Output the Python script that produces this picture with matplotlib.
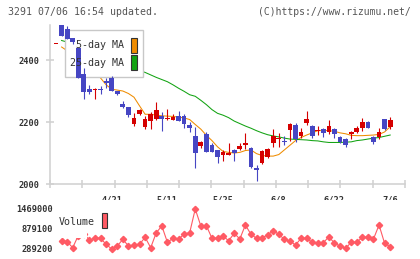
import matplotlib
matplotlib.use("Agg")
import matplotlib.pyplot as plt
from matplotlib.patches import Rectangle
import numpy as np

# candles, one per trading day (index 0..60)
opens = [2451, 2515, 2500, 2472, 2440, 2355, 2307, 2302, 2305, 2333,
         2343, 2301, 2257, 2247, 2194, 2226, 2185, 2204, 2209, 2220,
         2210, 2207, 2219, 2219, 2190, 2155, 2124, 2161, 2126, 2109,
         2094, 2095, 2110, 2113, 2126, 2115, 2053, 2069, 2088, 2131,
         2144, 2138, 2174, 2190, 2155, 2198, 2187, 2172, 2176, 2169,
         2176, 2153, 2144, 2161, 2169, 2182, 2200, 2153, 2153, 2210,
         2185]
highs = [2453, 2515, 2509, 2472, 2440, 2373, 2318, 2309, 2316, 2341,
         2348, 2301, 2269, 2249, 2228, 2242, 2219, 2233, 2265, 2233,
         2242, 2225, 2236, 2225, 2201, 2185, 2140, 2167, 2131, 2110,
         2109, 2133, 2112, 2131, 2166, 2120, 2061, 2110, 2117, 2176,
         2165, 2155, 2196, 2198, 2180, 2236, 2190, 2187, 2182, 2206,
         2182, 2155, 2149, 2171, 2187, 2212, 2203, 2155, 2182, 2210,
         2215]
lows = [2451, 2478, 2468, 2453, 2343, 2273, 2290, 2275, 2290, 2311,
        2301, 2287, 2244, 2217, 2187, 2224, 2178, 2178, 2207, 2172,
        2207, 2205, 2203, 2180, 2169, 2051, 2115, 2102, 2104, 2069,
        2074, 2093, 2074, 2110, 2112, 2053, 2010, 2064, 2085, 2120,
        2120, 2126, 2139, 2137, 2150, 2190, 2147, 2158, 2151, 2160,
        2149, 2133, 2118, 2145, 2164, 2172, 2180, 2128, 2144, 2174,
        2176]
closes = [2453, 2478, 2468, 2459, 2343, 2296, 2298, 2305, 2302, 2325,
          2301, 2289, 2247, 2223, 2212, 2239, 2210, 2225, 2239, 2211,
          2213, 2216, 2203, 2195, 2182, 2101, 2135, 2102, 2104, 2087,
          2103, 2099, 2099, 2124, 2133, 2056, 2045, 2107, 2113, 2156,
          2146, 2136, 2193, 2144, 2167, 2210, 2155, 2174, 2163, 2187,
          2160, 2136, 2126, 2167, 2182, 2200, 2182, 2135, 2167, 2176,
          2206]

nan = np.nan
ma5 = [nan, 2442, 2430, 2420, 2410, 2400, 2385, 2365, 2342, 2320,
       2306, 2303, 2300, 2292, 2280, 2252, 2225, 2225, 2222, 2220,
       2219, 2218, 2216, 2213, 2208, 2192, 2177, 2157, 2140, 2120,
       2105, 2102, 2100, 2102, 2108, 2110, 2098, 2092, 2090, 2090,
       2095, 2110, 2125, 2140, 2150, 2158, 2165, 2172, 2173, 2172,
       2170, 2165, 2162, 2157, 2156, 2156, 2157, 2158, 2160, 2168,
       2185]
ma25 = [nan, 2463, 2458, 2452, 2446, 2440, 2433, 2426, 2419, 2411,
        2403, 2395, 2387, 2380, 2373, 2366, 2360, 2352, 2344, 2337,
        2330, 2320, 2309, 2299, 2288, 2283, 2270, 2256, 2240, 2228,
        2222, 2214, 2203, 2195, 2187, 2180, 2172, 2165, 2159, 2155,
        2152, 2148, 2145, 2144, 2143, 2142, 2140, 2139, 2136, 2134,
        2134, 2134, 2135, 2136, 2140, 2142, 2145, 2148, 2150, 2154,
        2158]

volume = [nan, 534000, 505000, 328000, 687000, 732000, 554000, 605000, 605000, 428000,
          289000, 378000, 575000, 378000, 407000, 428000, 634000, 328000, 770000, 968000,
          487000, 605000, 575000, 732000, 770000, 1469000, 968000, 977000, 605000, 605000,
          667000, 534000, 752000, 584000, 997000, 723000, 605000, 623000, 702000, 829000,
          723000, 575000, 525000, 407000, 605000, 605000, 487000, 475000, 475000, 652000,
          457000, 378000, 310000, 487000, 487000, 634000, 634000, 584000, 997000, 457000,
          357000]

date_idx = [10, 20, 30, 40, 50, 60]
date_labels = ["4/21", "5/11", "5/25", "6/8", "6/22", "7/6"]
price_ticks = [2000, 2200, 2400]
vol_ticks = [289200, 879100, 1469000]

W, H = 420, 259
RED = "#d50000"
BLUE = "#4646c3"
ORANGE = "#ef8c00"
GREEN = "#12a312"
VOLC = "#ff5a64"
GRID = "#d0d0d0"
MONO = "DejaVu Sans Mono"


def fig_box(x0, y0, x1, y1):
    # pixel box (top-left origin) -> figure fraction rect
    return [x0 / W, 1 - y1 / H, (x1 - x0) / W, (y1 - y0) / H]


fig = plt.figure(figsize=(W / 100, H / 100), dpi=100)
fig.patch.set_facecolor("white")

x = np.arange(len(closes))
xlim = (-1.08, 62.66)

ax = fig.add_axes(fig_box(50, 25, 405, 184))
ax.set_xlim(*xlim)
ax.set_ylim(2000, 2513)
for s in ["top", "right"]:
    ax.spines[s].set_visible(False)
for s in ["left", "bottom"]:
    ax.spines[s].set_color(GRID)
    ax.spines[s].set_linewidth(1.1)

ax.plot(x, ma5, color=ORANGE, lw=0.75, zorder=2)
ax.plot(x, ma25, color=GREEN, lw=0.75, zorder=2)

o = np.array(opens, float)
c = np.array(closes, float)
cols = [RED if cc >= oo else BLUE for oo, cc in zip(o, c)]
ax.vlines(x, lows, highs, colors=cols, lw=0.8, zorder=4)
body = np.maximum(np.abs(c - o), 3.2)
ax.bar(x, body, bottom=np.minimum(o, c), width=0.85, color=cols, zorder=4.1)

lab_kw = dict(family=MONO, fontsize=6.2, color="#333333", fontweight="bold")
ax.set_yticks(price_ticks)
ax.set_yticklabels([str(t) for t in price_ticks], **lab_kw)
ax.tick_params(axis="y", direction="inout", length=5.9, width=1.1, color=GRID, pad=4.7)
ax.set_xticks(date_idx)
ax.set_xticklabels(date_labels, **lab_kw)
ax.tick_params(axis="x", which="major", length=0, pad=8.0)
ax.set_xticks(np.linspace(xlim[0], xlim[1], 12), minor=True)
ax.tick_params(axis="x", which="minor", direction="inout", length=5.9, width=1.1, color=GRID)

# price legend (drawn above the MA lines, below the candles)
tf = fig.transFigure
lb = fig_box(65, 30, 143.3, 76.7)
ax.add_patch(Rectangle((lb[0], lb[1]), lb[2], lb[3], transform=tf, facecolor="white",
                       edgecolor="#c8c8c8", lw=1.0, zorder=3))
for label, col, yc in [("5-day MA", ORANGE, 45.5), ("25-day MA", GREEN, 62.5)]:
    ax.text(124.5 / W, 1 - yc / H, label, transform=tf, ha="right", va="center",
            family=MONO, fontsize=7.2, color="#333333", zorder=5)
    sb = fig_box(131, yc - 7.5, 137.3, yc + 7.5)
    ax.add_patch(Rectangle((sb[0], sb[1]), sb[2], sb[3], transform=tf, facecolor=col,
                           edgecolor="#333333", lw=0.8, zorder=5))

# volume panel
vax = fig.add_axes(fig_box(50, 200, 405, 255))
vax.set_xlim(*xlim)
vax.set_ylim(289200 - 6 * 29495, 289200 + 49 * 29495)
for s in vax.spines.values():
    s.set_visible(False)
vax.set_xticks([])
vax.set_yticks(vol_ticks)
vax.set_yticklabels([str(t) for t in vol_ticks], **lab_kw)
vax.tick_params(axis="y", length=0, pad=-2.2)
vax.plot(x, volume, color=VOLC, lw=0.8, marker="D", ms=3.2, mec=VOLC, mfc=VOLC,
         zorder=2, clip_on=False)
vb = fig_box(55, 205, 87, 237.5)
vax.add_patch(Rectangle((vb[0], vb[1]), vb[2], vb[3], transform=tf, facecolor="white",
                        edgecolor="none", zorder=3, clip_on=False))
vax.text(59 / W, 1 - 222 / H, "Volume", transform=tf, ha="left", va="center",
         family=MONO, fontsize=7.2, color="#333333", zorder=5)
rb = fig_box(101.7, 213.3, 107.3, 228.3)
vax.add_patch(Rectangle((rb[0], rb[1]), rb[2], rb[3], transform=tf, facecolor=VOLC,
                        edgecolor="#333333", lw=0.8, zorder=5, clip_on=False))

fig.text(8 / W, 1 - 12 / H, "3291 07/06 16:54 updated.", ha="left", va="center",
         family=MONO, fontsize=7.1, color="#555555")
fig.text(411 / W, 1 - 12 / H, "(C)https://www.rizumu.net/", ha="right", va="center",
         family=MONO, fontsize=7.0, color="#555555")

fig.savefig("out.png", dpi=100)
